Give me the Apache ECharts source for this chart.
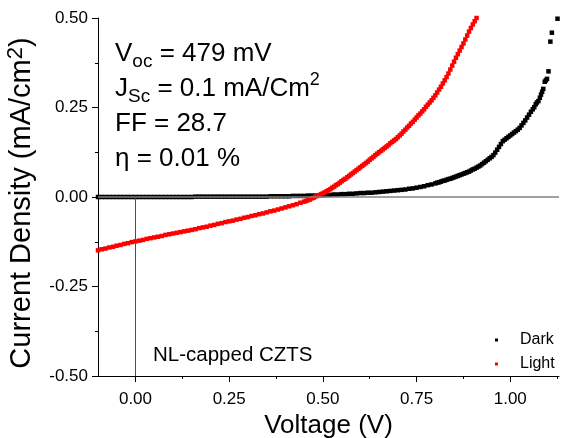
<!DOCTYPE html>
<html>
<head>
<meta charset="utf-8">
<script src="https://cdn.jsdelivr.net/npm/echarts@6/dist/echarts.min.js"></script>
<style>
  html, body { margin: 0; padding: 0; background: #fff; }
  #chart { width: 561px; height: 438px; }
</style>
</head>
<body>
<div id="chart"></div>
<script>
// Axis ticks
const xTickValues = [0, 0.25, 0.5, 0.75, 1.0];
const xMinorTickValues = [0.125, 0.375, 0.625, 0.875, 1.125];
const yRange = [-0.5, 0.5];
const xRange = [-0.1, 1.13];

const seriesNames = ['Dark', 'Light'];

// J–V sweep in the dark: [voltage (V), current density (mA/cm²)]
const darkPoints = [
  [-0.10,0.000],[-0.09,0.000],[-0.08,0.000],[-0.07,0.000],[-0.06,0.000],[-0.05,0.000],[-0.04,0.000],[-0.03,0.000],
  [-0.02,0.000],[-0.01,0.000],[0.00,0.000],[0.01,0.000],[0.02,0.000],[0.03,0.000],[0.04,0.000],[0.05,0.000],
  [0.06,0.000],[0.07,0.000],[0.08,0.000],[0.09,0.000],[0.10,0.000],[0.11,0.000],[0.12,0.000],[0.13,0.000],
  [0.14,0.000],[0.15,0.000],[0.16,0.001],[0.17,0.001],[0.18,0.001],[0.19,0.001],[0.20,0.001],[0.21,0.001],
  [0.22,0.001],[0.23,0.001],[0.24,0.001],[0.25,0.001],[0.26,0.001],[0.27,0.001],[0.28,0.001],[0.29,0.001],
  [0.30,0.001],[0.31,0.001],[0.32,0.001],[0.33,0.001],[0.34,0.001],[0.35,0.001],[0.36,0.002],[0.37,0.002],
  [0.38,0.002],[0.39,0.002],[0.40,0.002],[0.41,0.002],[0.42,0.003],[0.43,0.003],[0.44,0.003],[0.45,0.003],
  [0.46,0.004],[0.47,0.004],[0.48,0.004],[0.49,0.005],[0.50,0.005],[0.51,0.006],[0.52,0.006],[0.53,0.007],
  [0.54,0.007],[0.55,0.008],[0.56,0.008],[0.57,0.009],[0.58,0.009],[0.59,0.010],[0.60,0.011],[0.61,0.011],
  [0.62,0.012],[0.63,0.012],[0.64,0.013],[0.65,0.014],[0.66,0.015],[0.67,0.016],[0.68,0.017],[0.69,0.018],
  [0.70,0.019],[0.71,0.020],[0.72,0.021],[0.73,0.023],[0.74,0.024],[0.75,0.026],[0.76,0.028],[0.77,0.030],
  [0.78,0.033],[0.79,0.035],
  [0.800,0.038],[0.805,0.040],[0.810,0.041],[0.815,0.043],[0.820,0.045],[0.825,0.046],[0.830,0.048],[0.835,0.050],
  [0.840,0.051],[0.845,0.053],[0.850,0.055],[0.855,0.057],[0.860,0.059],[0.865,0.061],[0.870,0.063],[0.875,0.065],
  [0.880,0.067],[0.885,0.069],[0.890,0.071],[0.895,0.074],[0.900,0.077],[0.905,0.079],[0.910,0.082],[0.915,0.085],
  [0.920,0.088],[0.925,0.092],[0.930,0.096],[0.935,0.100],[0.940,0.104],[0.945,0.108],[0.950,0.112],[0.955,0.117],
  [0.960,0.124],[0.965,0.132],[0.970,0.140],[0.975,0.148],[0.980,0.156],[0.985,0.160],[0.990,0.164],[0.995,0.168],
  [1.000,0.172],[1.005,0.176],[1.010,0.180],[1.015,0.184],[1.020,0.188],[1.025,0.193],[1.030,0.200],[1.035,0.207],
  [1.040,0.214],[1.045,0.222],[1.050,0.230],[1.055,0.238],[1.060,0.245],
  [1.064,0.251],[1.068,0.259],[1.071,0.264],[1.075,0.268],[1.079,0.277],[1.082,0.286],[1.085,0.294],[1.088,0.302],
  [1.092,0.322],[1.095,0.326],[1.098,0.330],[1.102,0.351],[1.107,0.434],[1.111,0.459],[1.126,0.498]
];

// J–V sweep under illumination: [voltage (V), current density (mA/cm²)]
const lightPoints = [
  [-0.10,-0.149],[-0.09,-0.146],[-0.08,-0.144],[-0.07,-0.141],[-0.06,-0.139],[-0.05,-0.136],[-0.04,-0.134],[-0.03,-0.131],
  [-0.02,-0.129],[-0.01,-0.126],[0.00,-0.124],[0.01,-0.122],[0.02,-0.120],[0.03,-0.117],[0.04,-0.115],[0.05,-0.113],
  [0.06,-0.111],[0.07,-0.109],[0.08,-0.106],[0.09,-0.104],[0.10,-0.102],[0.11,-0.100],[0.12,-0.098],[0.13,-0.096],
  [0.14,-0.094],[0.15,-0.092],[0.16,-0.090],[0.17,-0.087],[0.18,-0.085],[0.19,-0.083],[0.20,-0.080],[0.21,-0.078],
  [0.22,-0.075],[0.23,-0.073],[0.24,-0.070],[0.25,-0.068],[0.26,-0.066],[0.27,-0.063],[0.28,-0.061],[0.29,-0.058],
  [0.30,-0.056],[0.31,-0.053],[0.32,-0.051],[0.33,-0.048],[0.34,-0.046],[0.35,-0.043],[0.36,-0.040],[0.37,-0.038],
  [0.38,-0.035],[0.39,-0.032],[0.40,-0.029],[0.41,-0.026],[0.42,-0.023],[0.43,-0.020],[0.44,-0.016],
  [0.450,-0.013],[0.455,-0.011],[0.460,-0.009],[0.465,-0.007],[0.470,-0.004],[0.475,-0.002],[0.480,0.001],[0.485,0.003],
  [0.490,0.005],[0.495,0.008],[0.500,0.010],[0.505,0.013],[0.510,0.016],[0.515,0.019],[0.520,0.022],[0.525,0.026],
  [0.530,0.029],[0.535,0.033],[0.540,0.036],[0.545,0.040],[0.550,0.044],[0.555,0.048],[0.560,0.051],[0.565,0.055],
  [0.570,0.059],[0.575,0.063],[0.580,0.067],[0.585,0.071],[0.590,0.075],[0.595,0.079],[0.600,0.083],[0.605,0.087],
  [0.610,0.091],[0.615,0.095],[0.620,0.099],[0.625,0.104],[0.630,0.108],[0.635,0.112],[0.640,0.117],[0.645,0.121],
  [0.650,0.125],[0.655,0.129],[0.660,0.133],[0.665,0.137],[0.670,0.141],[0.675,0.145],[0.680,0.150],[0.685,0.154],
  [0.690,0.158],[0.695,0.162],[0.700,0.167],[0.705,0.172],[0.710,0.177],[0.715,0.183],[0.720,0.188],[0.725,0.194],
  [0.730,0.199],[0.735,0.205],[0.740,0.210],[0.745,0.216],[0.750,0.222],[0.755,0.228],[0.760,0.233],[0.765,0.239],
  [0.770,0.245],[0.775,0.252],[0.780,0.258],[0.785,0.264],[0.790,0.270],[0.795,0.277],[0.800,0.284],[0.805,0.292],
  [0.810,0.300],[0.815,0.308],[0.820,0.317],[0.825,0.326],[0.830,0.335],[0.835,0.345],[0.840,0.356],[0.845,0.367],
  [0.850,0.378],[0.855,0.389],[0.860,0.399],[0.865,0.409],[0.870,0.419],[0.875,0.429],[0.880,0.440],[0.885,0.451],
  [0.890,0.462],[0.895,0.472],[0.900,0.482],[0.905,0.491],[0.910,0.500]
];

// Device figures of merit shown in the plot
const voc = '479 mV';
const jsc = '0.1 mA/Cm';
const fillFactor = '28.7';
const efficiency = '0.01 %';
const sampleLabel = 'NL-capped CZTS';

const FONT = '"Liberation Sans", Arial, Helvetica, sans-serif';
const fmt2 = v => v.toFixed(2);

const chart = echarts.init(document.getElementById('chart'), null, { renderer: 'canvas' });

chart.setOption({
  animation: false,
  backgroundColor: '#fff',
  textStyle: { fontFamily: FONT, color: '#000' },
  grid: { left: 98, top: 18, bottom: 62, right: 2, containLabel: false, outerBoundsMode: 'none' },
  legend: {
    data: seriesNames,
    orient: 'vertical',
    left: 495,
    top: 332,
    padding: 0,
    itemGap: 8,
    itemWidth: 3,
    itemHeight: 3,
    icon: 'rect',
    textStyle: { fontSize: 16, color: '#000', fontFamily: FONT, padding: [0, 0, 0, 17] }
  },
  xAxis: [
    {
      type: 'value',
      min: xRange[0],
      max: xRange[1],
      position: 'bottom',
      splitLine: { show: false },
      axisLine: { show: true, onZero: false, lineStyle: { color: '#000', width: 1 } },
      axisTick: { show: true, inside: false, length: 6, customValues: xTickValues, lineStyle: { color: '#000' } },
      axisLabel: {
        customValues: xTickValues, formatter: fmt2, fontSize: 17, margin: 15, color: '#000', fontFamily: FONT
      },
      name: 'Voltage (V)',
      nameLocation: 'middle',
      nameGap: 23,
      nameTextStyle: { fontSize: 26, color: '#000', fontFamily: FONT }
    },
    {
      type: 'value',
      min: xRange[0],
      max: xRange[1],
      position: 'bottom',
      splitLine: { show: false },
      axisLine: { show: false, onZero: false },
      axisTick: { show: true, inside: false, length: 3, customValues: xMinorTickValues, lineStyle: { color: '#000' } },
      axisLabel: { show: false }
    }
  ],
  yAxis: {
    type: 'value',
    min: yRange[0],
    max: yRange[1],
    interval: 0.25,
    splitLine: { show: false },
    axisLine: { show: true, onZero: false, lineStyle: { color: '#000', width: 1 } },
    axisTick: { show: true, inside: false, length: 6, lineStyle: { color: '#000' } },
    minorTick: { show: true, splitNumber: 2, length: 3, lineStyle: { color: '#000' } },
    axisLabel: { formatter: fmt2, fontSize: 17, margin: 10, color: '#000', fontFamily: FONT },
    name: 'Current Density (mA/cm{sup|2})',
    nameLocation: 'middle',
    nameRotate: 90,
    nameGap: 55,
    nameTextStyle: {
      fontSize: 29, color: '#000', fontFamily: FONT, lineHeight: 33,
      padding: [0, 12, 0, 0],
      rich: { sup: { fontSize: 22, lineHeight: 22, verticalAlign: 'top', fontFamily: FONT, color: '#000' } }
    }
  },
  graphic: [
    {
      type: 'text',
      left: 115,
      top: 41,
      z: 10,
      style: {
        text: '{t|V}{s|oc}{t| = ' + voc + '}\n{t|J}{s|Sc}{t| = ' + jsc + '}{p|2}\n{t|FF = ' + fillFactor + '}\n{t|η = ' + efficiency + '}',
        fill: '#000',
        font: '26px ' + FONT,
        rich: {
          t: { fontSize: 26, lineHeight: 35, verticalAlign: 'middle', fontFamily: FONT, fill: '#000' },
          s: { fontSize: 19, lineHeight: 20, verticalAlign: 'bottom', fontFamily: FONT, fill: '#000' },
          p: { fontSize: 18, lineHeight: 18, verticalAlign: 'top', fontFamily: FONT, fill: '#000' }
        }
      }
    },
    {
      type: 'text',
      left: 153,
      top: 345,
      z: 10,
      style: { text: sampleLabel, fill: '#000', font: '20.5px ' + FONT }
    }
  ],
  series: [
    {
      // zero-current and zero-voltage guide lines
      type: 'line',
      name: 'guides',
      data: [],
      z: 1,
      silent: true,
      markLine: {
        silent: true,
        symbol: 'none',
        label: { show: false },
        animation: false,
        data: [
          [{ coord: [xRange[0], 0] }, { coord: [xRange[1], 0] }],
          [
            { coord: [0, 0], lineStyle: { color: '#4d4d4d', width: 1 } },
            { coord: [0, yRange[0]] }
          ]
        ],
        lineStyle: { color: '#808080', width: 1.5, type: 'solid' }
      }
    },
    {
      name: seriesNames[0],
      type: 'scatter',
      data: darkPoints,
      symbol: 'rect',
      symbolSize: 4.5,
      z: 3,
      itemStyle: { color: '#000', opacity: 1 }
    },
    {
      name: seriesNames[1],
      type: 'scatter',
      data: lightPoints,
      symbol: 'rect',
      symbolSize: 4.5,
      z: 4,
      itemStyle: { color: '#ff0000', opacity: 1 }
    }
  ]
});
</script>
</body>
</html>
